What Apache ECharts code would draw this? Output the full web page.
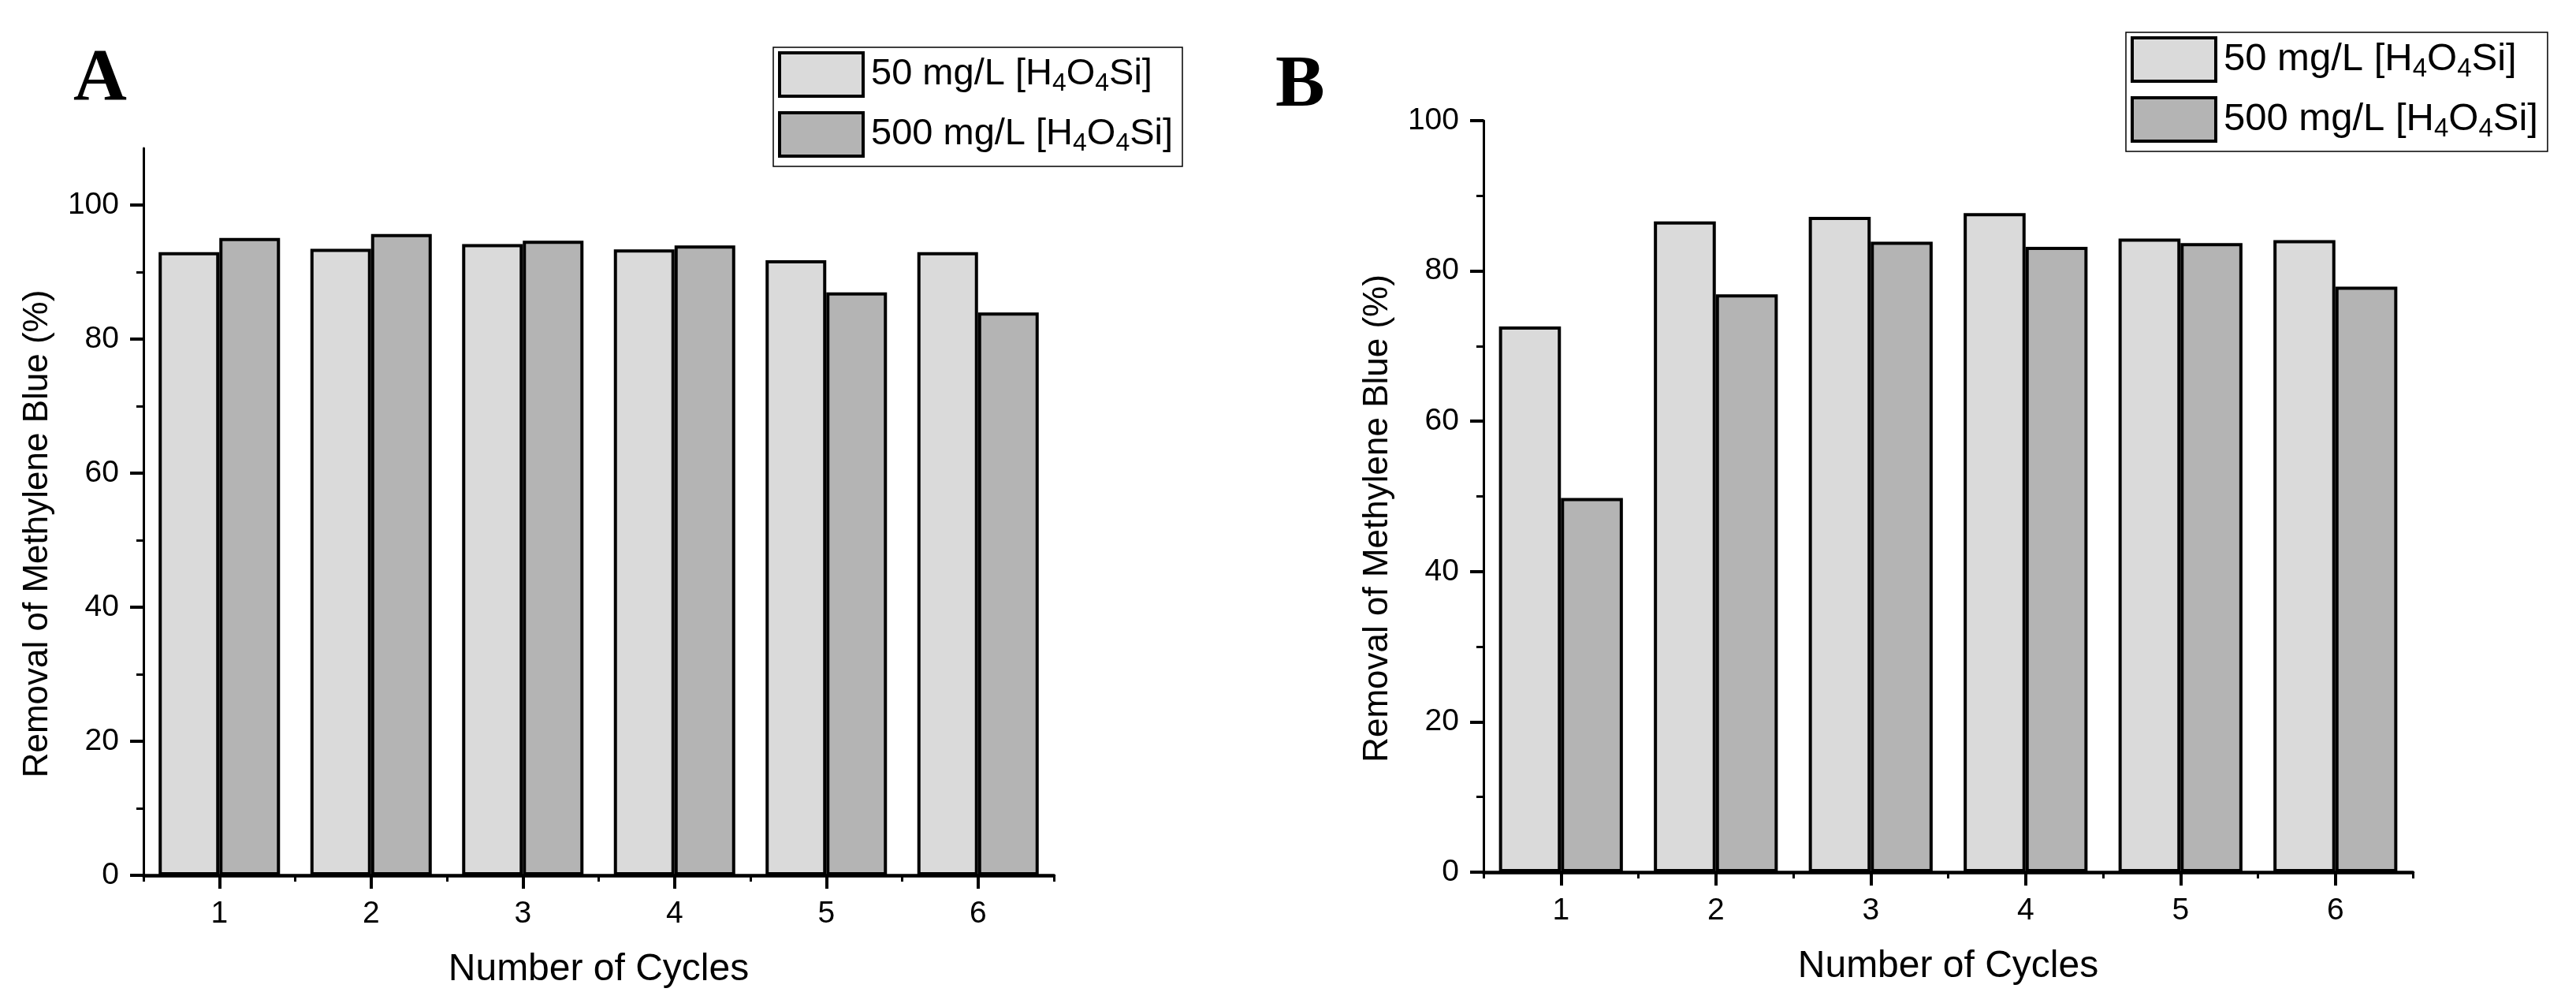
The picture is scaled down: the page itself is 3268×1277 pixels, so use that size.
<!DOCTYPE html>
<html>
<head>
<meta charset="utf-8">
<script src="https://cdn.jsdelivr.net/npm/echarts@6/dist/echarts.min.js"></script>
<style>
html,body{margin:0;padding:0;background:#fff;}
#c{width:3268px;height:1277px;}
</style>
</head>
<body>
<div id="c"></div>
<script>
// ---- data ----
const cycles = ['1', '2', '3', '4', '5', '6'];
const seriesNames = ['50 mg/L [H4O4Si]', '500 mg/L [H4O4Si]'];
const A_50 = [93.0, 93.5, 94.2, 93.4, 91.8, 93.0];
const A_500 = [95.1, 95.7, 94.7, 94.0, 87.0, 84.0];
const B_50 = [72.6, 86.6, 87.2, 87.7, 84.3, 84.1];
const B_500 = [49.8, 76.9, 83.9, 83.2, 83.7, 77.9];
const yMajor = [0, 20, 40, 60, 80, 100];
const yMinor = [10, 30, 50, 70, 90];
const panelLetters = ['A', 'B'];
const xTitle = 'Number of Cycles';
const yTitle = 'Removal of Methylene Blue (%)';

const FONT = 'Liberation Sans';
const colors = ['#DADADA', '#B4B4B4'];

const chart = echarts.init(document.getElementById('c'), null, {renderer: 'canvas'});

function legendFmt(name) {
  return name.replace('[H4O4Si]', '[H{s|4}O{s|4}Si]');
}

function xAxes(grid) {
  return [
    {
      type: 'category', gridIndex: grid, position: 'bottom', data: cycles,
      axisLine: {show: true, lineStyle: {color: '#000', width: 4.5}},
      axisTick: {show: true, alignWithLabel: true, length: 17, lineStyle: {color: '#000', width: 4}},
      axisLabel: {show: true, margin: 30, color: '#000', fontFamily: FONT, fontSize: 39},
      splitLine: {show: false},
      name: xTitle, nameLocation: 'middle', nameGap: 96,
      nameTextStyle: {color: '#000', fontFamily: FONT, fontSize: 48}
    },
    {
      type: 'category', gridIndex: grid, position: 'bottom', data: cycles,
      axisLine: {show: false},
      axisTick: {show: true, alignWithLabel: false, length: 8, lineStyle: {color: '#000', width: 3}},
      axisLabel: {show: false},
      splitLine: {show: false}
    }
  ];
}

function yAxes(grid, max) {
  return [
    {
      type: 'value', gridIndex: grid, position: 'left', min: 0, max: max, interval: 20,
      axisLine: {show: true, onZero: false, lineStyle: {color: '#000', width: 3}},
      axisTick: {show: true, length: 17, customValues: yMajor, lineStyle: {color: '#000', width: 4}},
      axisLabel: {show: true, margin: 31, customValues: yMajor, color: '#000', fontFamily: FONT, fontSize: 39},
      splitLine: {show: false},
      name: yTitle, nameLocation: 'middle', nameGap: 112,
      nameTextStyle: {color: '#000', fontFamily: FONT, fontSize: 44, padding: [0, 56, 0, 0]}
    },
    {
      type: 'value', gridIndex: grid, position: 'left', min: 0, max: max, interval: 20,
      axisLine: {show: false},
      axisTick: {show: true, length: 9, customValues: yMinor, lineStyle: {color: '#000', width: 3}},
      axisLabel: {show: false},
      splitLine: {show: false}
    }
  ];
}

function barSeries(name, data, xi, yi, color) {
  return {
    type: 'bar', name: name, data: data, xAxisIndex: xi, yAxisIndex: yi,
    barGap: '0%', barCategoryGap: '20%',
    itemStyle: {color: color, borderColor: '#000', borderWidth: 4},
    emphasis: {disabled: true},
    animation: false
  };
}

function legendAt(left, top, fs) {
  return {
    show: true, orient: 'vertical', left: left, top: top,
    data: seriesNames,
    itemWidth: 106, itemHeight: 55, itemGap: 17,
    padding: [5, 12, 11, 6],
    borderColor: '#000', borderWidth: 1.5, backgroundColor: '#fff',
    selectedMode: false,
    icon: 'rect',
    itemStyle: {borderColor: '#000', borderWidth: 4},
    formatter: legendFmt,
    textStyle: {
      color: '#000', fontFamily: FONT, fontSize: fs, padding: [0, 0, 0, 5],
      rich: {
        s: {fontFamily: FONT, fontSize: Math.round(fs * 0.68), color: '#000', padding: [Math.round(fs * 0.52), 0, 0, 0]}
      }
    }
  };
}

const option = {
  backgroundColor: '#fff',
  animation: false,
  title: [
    {text: panelLetters[0], left: 88, top: 50,
     textStyle: {fontFamily: 'Liberation Serif', fontWeight: 'bold', fontSize: 94, color: '#000'}},
    {text: panelLetters[1], left: 1613, top: 58,
     textStyle: {fontFamily: 'Liberation Serif', fontWeight: 'bold', fontSize: 94, color: '#000'}}
  ],
  legend: [legendAt(981, 60, 47), legendAt(2697, 41, 49)],
  grid: [
    {left: 182, top: 188, right: 3268 - 1337, bottom: 1277 - 1110, containLabel: false, outerBoundsMode: 'none'},
    {left: 1882, top: 153, right: 3268 - 3061, bottom: 1277 - 1106, containLabel: false, outerBoundsMode: 'none'}
  ],
  xAxis: [].concat(xAxes(0), xAxes(1)),
  yAxis: [].concat(yAxes(0, 108.5), yAxes(1, 100)),
  series: [
    barSeries(seriesNames[0], A_50, 0, 0, colors[0]),
    barSeries(seriesNames[1], A_500, 0, 0, colors[1]),
    barSeries(seriesNames[0], B_50, 2, 2, colors[0]),
    barSeries(seriesNames[1], B_500, 2, 2, colors[1])
  ]
};
chart.setOption(option);
</script>
</body>
</html>
